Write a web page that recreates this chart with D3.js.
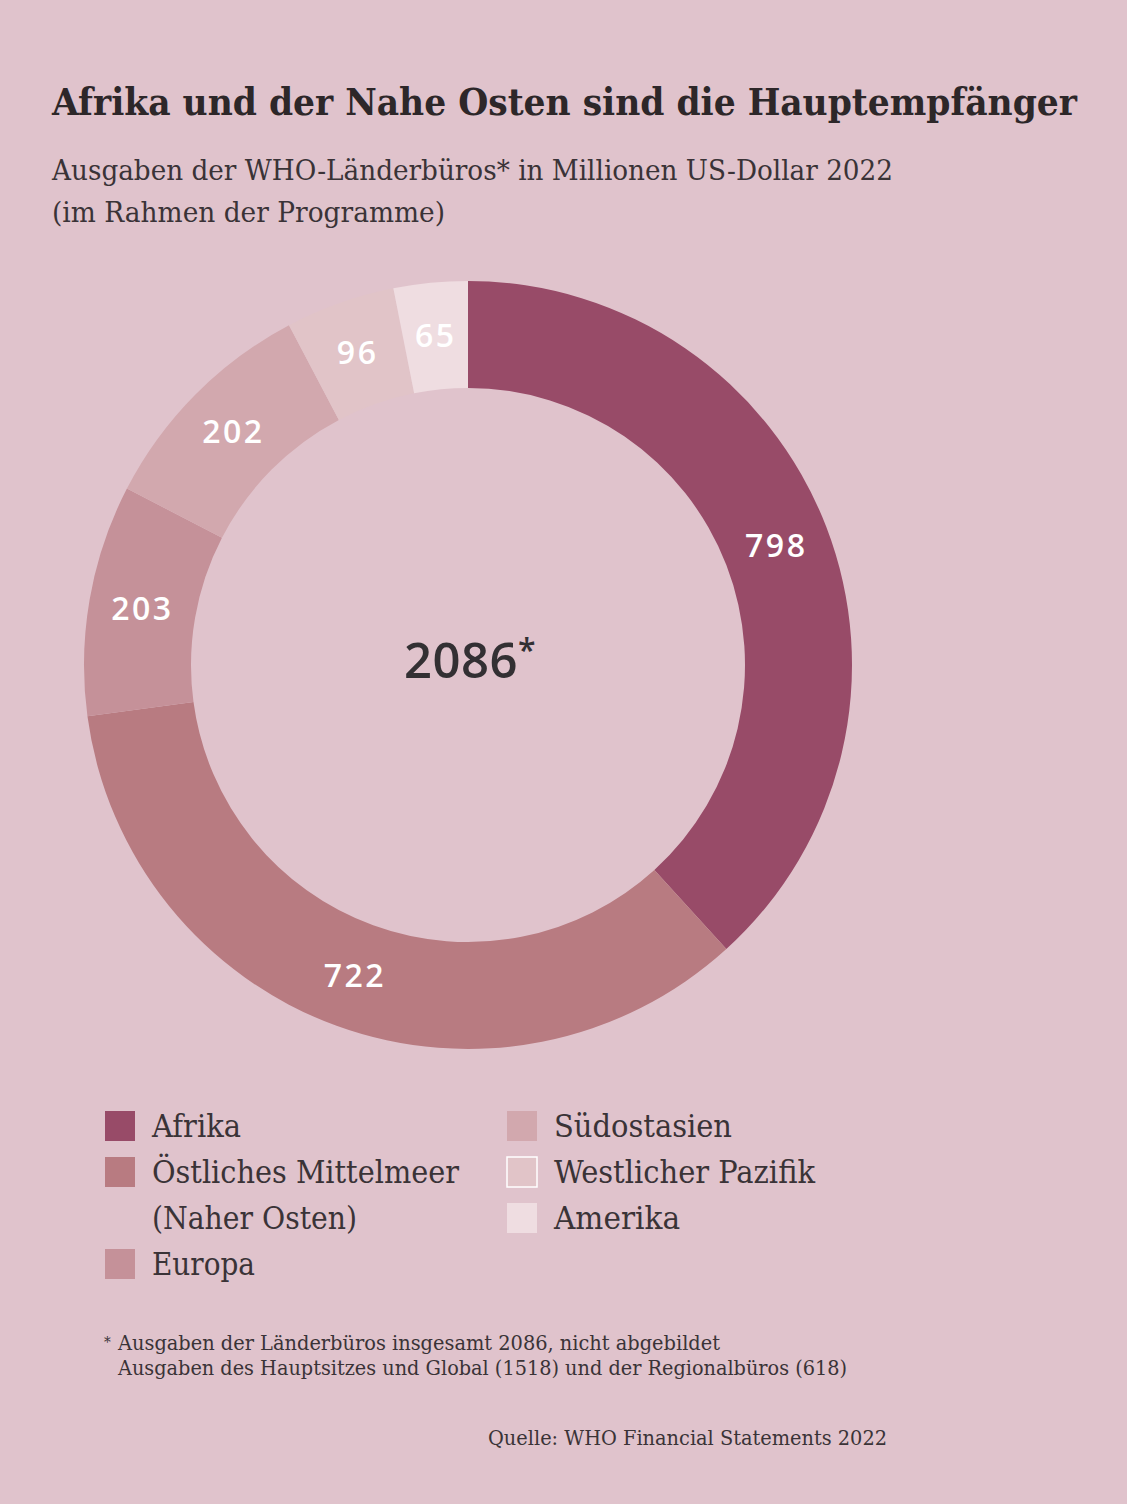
<!DOCTYPE html>
<html>
<head>
<meta charset="utf-8">
<script src="https://cdn.jsdelivr.net/npm/d3@7"></script>
<style>
    html, body { margin: 0; padding: 0; background: #e0c3cc; }
    svg { display: block; }
    .serif { font-family: "DejaVu Serif", serif; font-stretch: condensed; fill: #3a3337; }
    .title { font-weight: bold; fill: #2d2729; }
    .sans { font-family: "Open Sans", sans-serif; font-weight: 600; }
</style>
</head>
<body>
<script>
(function(){

    //chart data
    var regions = ["Afrika", "Östliches Mittelmeer", "Europa", "Südostasien", "Westlicher Pazifik", "Amerika"];
    var values = [798, 722, 203, 202, 96, 65];
    var colors = ["#984b68", "#b87b81", "#c59199", "#d2a8ae", "#e1c4c8", "#efdde1"];

    //legend layout (column, row) for each region
    var legendRows = [[0, 0], [0, 1], [0, 3], [1, 0], [1, 1], [1, 2]];

    window.onload = draw();

    function draw(){
        var width = 1127,
            height = 1504;

        var svg = d3.select("body")
            .append("svg")
            .attr("width", width)
            .attr("height", height);

        svg.append("rect")
            .attr("width", width)
            .attr("height", height)
            .attr("fill", "#e0c3cc");

        //title and subtitle
        addText(svg, 52, 115, 38, 1025, "Afrika und der Nahe Osten sind die Hauptempfänger", "serif title");
        addText(svg, 52, 180, 28, 841, "Ausgaben der WHO-Länderbüros* in Millionen US-Dollar 2022", "serif");
        addText(svg, 52, 222, 28, 393, "(im Rahmen der Programme)", "serif");

        drawDonut(svg);
        drawLegend(svg);

        //footnote and source
        svg.append("text")
            .attr("class", "serif")
            .attr("x", 104)
            .attr("y", 1347)
            .style("font-size", "15px")
            .text("*");
        addText(svg, 118, 1350, 21, 602, "Ausgaben der Länderbüros insgesamt 2086, nicht abgebildet", "serif");
        addText(svg, 118, 1375, 21, 729, "Ausgaben des Hauptsitzes und Global (1518) und der Regionalbüros (618)", "serif");
        addText(svg, 488, 1445, 21, 399, "Quelle: WHO Financial Statements 2022", "serif");
    };

    //text squeezed or stretched to the width measured on the picture
    function addText(svg, x, y, size, len, str, cls){
        return svg.append("text")
            .attr("class", cls)
            .attr("x", x)
            .attr("y", y)
            .attr("textLength", len)
            .attr("lengthAdjust", "spacingAndGlyphs")
            .style("font-size", size + "px")
            .text(str);
    };

    function drawDonut(svg){
        var cx = 468,
            cy = 665,
            outerR = 384,
            innerR = 277;

        var pie = d3.pie()
            .sort(null)
            .value(function(d){ return d; });

        var arc = d3.arc()
            .innerRadius(innerR)
            .outerRadius(outerR);

        var g = svg.append("g")
            .attr("transform", "translate(" + cx + "," + cy + ")");

        var arcs = pie(values);

        g.selectAll(".slice")
            .data(arcs)
            .enter()
            .append("path")
            .attr("class", "slice")
            .attr("d", arc)
            .attr("fill", function(d, i){ return colors[i]; });

        //value labels on the ring
        g.selectAll(".label")
            .data(arcs)
            .enter()
            .append("text")
            .attr("class", "sans")
            .attr("transform", function(d){
                var c = arc.centroid(d);
                return "translate(" + c[0] + "," + (c[1] + 11) + ")";
            })
            .attr("text-anchor", "middle")
            .style("font-size", "32px")
            .style("letter-spacing", "2.5px")
            .style("fill", "#ffffff")
            .text(function(d){ return d.data; });

        //total in the middle
        var total = g.append("text")
            .attr("class", "sans")
            .attr("x", -64)
            .attr("y", 13)
            .style("font-size", "49px")
            .style("letter-spacing", "0.5px")
            .style("fill", "#333033");
        total.append("tspan").text(d3.sum(values));
        total.append("tspan")
            .attr("dy", -16)
            .style("font-size", "32px")
            .text("*");
    };

    function drawLegend(svg){
        var colX = [105, 507],
            rowY = 1111,
            rowStep = 46,
            box = 30;

        var items = svg.selectAll(".legendItem")
            .data(regions)
            .enter()
            .append("g")
            .attr("class", "legendItem")
            .attr("transform", function(d, i){
                var pos = legendRows[i];
                return "translate(" + colX[pos[0]] + "," + (rowY + pos[1] * rowStep) + ")";
            });

        items.append("rect")
            .attr("width", box)
            .attr("height", box)
            .attr("fill", function(d, i){ return colors[i]; })
            .attr("stroke", function(d, i){ return i == 4 ? "#ffffff" : "none"; })
            .attr("stroke-width", 1.5);

        var widths = { "Afrika": 89, "Östliches Mittelmeer": 307, "Europa": 103,
            "Südostasien": 178, "Westlicher Pazifik": 261, "Amerika": 126 };

        items.each(function(d){
            var item = d3.select(this);
            var parts = d == "Östliches Mittelmeer" ? ["Östliches Mittelmeer", "(Naher Osten)"] : [d];
            parts.forEach(function(p, k){
                var w = k == 0 ? widths[d] : 205;
                item.append("text")
                    .attr("class", "serif")
                    .attr("x", 47)
                    .attr("y", 26 + k * rowStep)
                    .attr("textLength", w)
                    .attr("lengthAdjust", "spacingAndGlyphs")
                    .style("font-size", "31px")
                    .text(p);
            });
        });
    };

})();
</script>
</body>
</html>
